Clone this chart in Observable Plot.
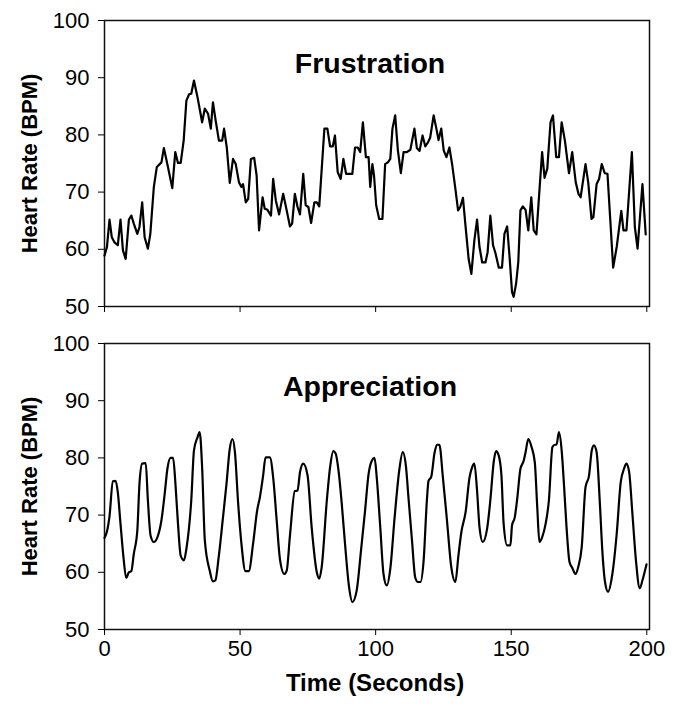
<!DOCTYPE html>
<html>
<head>
<meta charset="utf-8">
<script src="https://cdn.jsdelivr.net/npm/d3@7"></script>
<script src="https://cdn.jsdelivr.net/npm/@observablehq/plot@0.6"></script>
<style>
  html, body { margin: 0; padding: 0; background: #fff; }
  #chart { position: relative; width: 678px; height: 716px; }
  #chart svg { position: absolute; left: 0; }
</style>
</head>
<body>
<div id="chart"></div>
<script>
// ---- Data ----
const panelTitles = ["Frustration", "Appreciation"];
const yLabel = "Heart Rate (BPM)";
const xLabel = "Time (Seconds)";
const xTicks = [0, 50, 100, 150, 200];
const yTicks = [50, 60, 70, 80, 90, 100];

const frustTime = [0,0.9,1.85,2.7,3.7,4.9,5.9,6.8,7.8,9.0,9.9,10.8,12.1,12.9,13.9,14.8,16.0,16.9,18.2,19.3,21.0,21.9,23.4,25.0,26.1,27.1,28.1,29.2,30.2,31.2,32.0,33.0,34.3,36.0,37.0,38.2,39.2,40.0,41.0,42.2,43.4,44.1,45.1,46.2,47.4,48.4,49.6,50.5,51.1,52.1,53.0,54.0,55.2,56.1,57.0,58.3,59.1,60.1,61.4,62.2,63.2,64.4,65.9,67.2,68.4,69.2,70.2,71.2,72.1,73.3,74.2,75.2,76.2,77.4,78.3,79.2,81.1,82.2,83.2,84.2,85.0,86.0,87.1,88.1,89.1,90.2,91.4,92.4,93.4,94.3,95.3,96.4,97.4,98.0,98.8,99.4,100.2,101.3,102.5,103.5,104.5,105.4,106.2,107.2,108.2,109.3,110.3,111.5,112.8,114.3,115.2,116.2,117.3,118.3,119.3,120.1,121.4,122.4,123.2,124.2,125.1,126.1,127.2,128.2,129.4,130.4,131.2,132.2,133.3,134.3,135.3,136.4,137.4,138.3,139.3,140.5,141.3,142.3,143.3,144.2,145.4,146.6,147.5,148.5,149.4,150.3,150.9,151.8,152.6,153.4,154.3,155.3,156.3,157.4,158.3,159.3,160.6,161.4,162.3,163.3,164.5,165.4,166.6,167.6,168.6,169.8,171.3,172.5,173.8,174.8,175.6,177.4,178.4,179.6,180.3,181.5,182.4,183.4,184.5,185.5,187.6,188.9,190.6,191.4,192.5,194.5,195.6,196.6,198.4,199.6];
const frustHR = [58.9,60.4,65.2,62.1,61.2,60.7,65.2,59.8,58.3,65.2,65.9,64.5,62.7,63.9,68.2,62.1,60.1,62.7,70.9,74.4,75.2,77.7,74.4,70.7,77.0,75.1,75.1,79.0,86.0,87.1,87.2,89.5,86.6,82.2,84.6,83.7,81.1,85.7,82.5,79.0,79.0,81.1,77.8,71.6,75.8,74.9,71.7,70.9,71.4,68.2,68.8,75.8,76.0,72.9,63.3,69.1,67.1,66.9,65.9,72.3,68.5,66.1,69.7,66.8,64.0,64.5,69.7,67.4,66.1,73.2,67.7,67.4,64.6,68.2,68.2,67.5,81.1,81.1,78.0,78.0,79.9,73.5,72.3,75.8,73.2,73.2,73.2,77.8,77.8,77.0,82.2,76.1,76.1,70.9,74.9,72.9,67.7,65.3,65.3,74.9,75.2,75.8,81.1,83.4,77.3,73.3,77.0,77.0,77.4,81.1,77.7,77.2,79.9,78.0,78.7,79.5,83.4,81.1,79.1,81.1,77.3,76.1,77.8,74.9,70.6,66.8,67.4,69.0,63.3,58.3,55.7,61.5,65.2,60.4,57.7,57.7,59.5,65.9,60.7,59.3,56.8,56.8,62.7,64.0,58.6,52.5,51.7,54.0,57.7,66.8,67.5,66.9,63.3,69.1,63.3,62.6,71.6,77.0,72.5,74.1,82.2,83.4,76.1,76.1,82.2,79.0,73.3,77.0,71.7,69.7,69.1,74.9,71.7,65.3,65.6,71.4,72.3,74.9,73.3,73.2,56.8,60.4,66.7,63.3,63.3,77.0,63.9,60.1,71.4,62.6];

const apprTime = [0,1.0,1.8,3.1,4.1,4.9,5.9,7.0,8.0,9.0,9.9,10.8,12.1,12.9,13.9,15.2,16.0,17.0,18.2,19.5,21.0,22.2,23.2,24.4,25.3,26.2,27.1,28.1,29.3,30.2,32.0,33.0,34.3,35.1,36.0,37.0,38.8,40.0,40.9,42.1,43.7,45.0,46.2,47.2,48.1,49.3,50.5,52.0,53.2,54.8,56.3,57.3,58.5,59.4,61.0,62.2,63.5,64.7,66.3,67.2,68.4,70.2,71.2,72.1,73.3,74.9,76.4,78.3,79.2,80.1,82.0,83.2,84.4,85.3,86.3,87.5,88.7,90.2,91.4,93.0,94.6,96.1,97.4,98.6,99.6,100.4,101.7,102.9,104.1,105.4,107.0,108.7,110.0,111.2,112.1,113.4,114.6,115.6,116.5,117.7,118.9,119.5,120.5,121.7,122.6,123.5,124.8,126.3,127.9,129.4,130.5,131.6,133.2,134.6,135.6,136.4,137.4,138.3,139.5,141.1,142.3,143.6,144.4,145.4,146.4,147.2,148.5,149.7,150.3,151.3,152.2,153.4,154.6,155.3,156.3,157.5,158.7,159.6,160.4,161.4,162.7,163.9,165.2,166.1,166.7,167.6,168.6,169.4,170.4,171.5,172.5,173.7,174.7,176.0,177.4,178.7,179.7,180.5,181.5,182.7,183.6,184.6,185.7,187.3,188.9,190.4,191.6,192.5,193.5,194.7,196.0,197.4,198.4,199.9];
const apprHR = [66.0,67.3,69.6,75.9,76.0,74.0,68.5,62.6,59.0,60.0,60.2,63.2,67.3,75.5,79.0,79.1,72.6,66.4,65.3,66.1,69.1,73.7,78.1,80.0,80.0,75.2,68.5,62.9,62.1,64.1,72.6,81.3,83.6,84.5,78.4,65.6,60.3,58.4,58.6,62.6,69.6,75.5,81.6,83.3,81.0,72.0,65.0,60.2,60.2,65.0,70.8,73.1,76.9,80.1,80.1,76.6,69.1,62.3,59.7,60.3,66.4,74.2,74.3,77.5,79.0,76.9,67.9,60.0,58.9,60.9,72.6,78.4,81.2,80.7,77.8,72.0,65.0,57.4,54.8,56.8,63.8,70.8,77.2,79.5,80.0,76.6,67.9,59.7,57.7,60.6,69.6,77.8,81.0,78.4,73.1,65.6,59.1,58.3,58.3,62.1,72.6,76.0,76.7,80.8,82.3,82.3,76.6,69.1,60.9,58.3,62.8,67.0,70.6,76.5,78.4,79.0,74.3,67.9,65.3,67.6,72.6,79.5,81.2,80.4,76.9,68.5,64.7,64.7,68.2,69.6,72.8,78.1,79.5,81.0,83.3,81.9,79.2,71.4,65.3,66.1,68.5,72.6,81.9,82.3,82.3,84.5,81.3,75.8,67.9,61.8,60.8,59.7,60.9,64.4,74.9,76.9,81.3,82.2,81.0,72.0,63.8,58.3,56.6,59.7,66.7,75.8,78.1,79.0,77.5,70.2,62.1,57.2,58.6,61.4];

// ---- Build ----
const frust = frustTime.map((t, i) => ({t, hr: frustHR[i]}));
const appr = apprTime.map((t, i) => ({t, hr: apprHR[i]}));

const font = "'Liberation Sans', Arial, Helvetica, sans-serif";

function panel(data, title, opts) {
  const {top, height, marginTop, marginBottom, showXLabels, curve} = opts;
  const marks = [
    Plot.frame({stroke: "#111", strokeWidth: 1.5}),
    Plot.axisY(yTicks, {tickSize: 6, tickPadding: 9, fontSize: 22, label: null}),
    Plot.axisX(xTicks, {tickSize: 6, tickPadding: 5, fontSize: 22, label: null,
      tickFormat: showXLabels ? (d => String(d)) : (() => "")}),
    Plot.line(data, {x: "t", y: "hr", stroke: "#000", strokeWidth: 2.2, curve}),
    Plot.text([title], {frameAnchor: "top", dy: 32, dx: -7, fontSize: 28.5, fontWeight: "bold", text: d => d}),
    Plot.text([yLabel], {frameAnchor: "left", textAnchor: "middle", rotate: -90, dx: -75,
      fontSize: 22, fontWeight: "bold", text: d => d})
  ];
  if (showXLabels) {
    marks.push(Plot.text([xLabel], {frameAnchor: "bottom", dy: 61, dx: -2, fontSize: 24,
      fontWeight: "bold", text: d => d}));
  }
  const svg = Plot.plot({
    width: 678,
    height,
    marginLeft: 104,
    marginRight: 29,
    marginTop,
    marginBottom,
    style: {fontFamily: font, fontSize: "22px", color: "#000", background: "transparent", overflow: "visible"},
    x: {domain: [0, 201]},
    y: {domain: [50, 100]},
    marks
  });
  svg.style.top = top + "px";
  return svg;
}

const chart = document.getElementById("chart");
chart.appendChild(panel(frust, panelTitles[0], {top: 0, height: 330, marginTop: 20, marginBottom: 24, showXLabels: false, curve: "linear"}));
chart.appendChild(panel(appr, panelTitles[1], {top: 330, height: 386, marginTop: 13, marginBottom: 87, showXLabels: true, curve: "monotone-x"}));
</script>
</body>
</html>
